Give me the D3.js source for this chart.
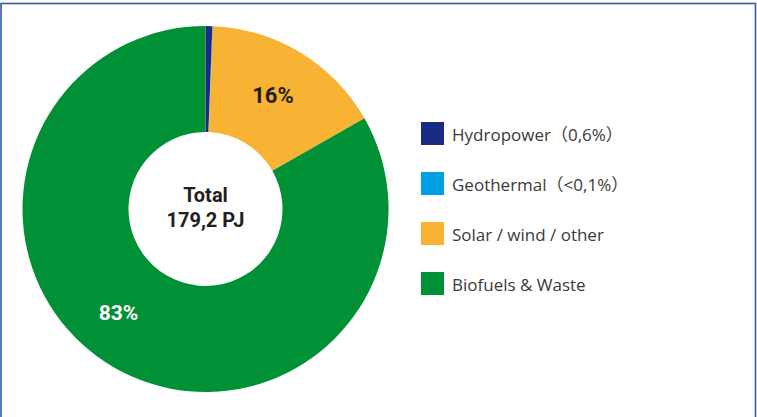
<!DOCTYPE html>
<html><head><meta charset="utf-8">
<script src="https://cdn.jsdelivr.net/npm/d3@7"></script>
<style>body{margin:0;background:#fff}svg{display:block}</style>
</head><body>
<svg id="c" width="757" height="417"></svg>
<script>
const categories = ["Hydropower", "Geothermal", "Solar / wind / other", "Biofuels & Waste"];
const legendLabels = ["Hydropower（0,6%）", "Geothermal（<0,1%）", "Solar / wind / other", "Biofuels & Waste"];
const values = [0.6, 0.05, 16.1, 83.25];
const sliceLabels = ["", "", "16%", "83%"];
const colors = ["#1b2a85", "#009fe3", "#f8b334", "#009036"];
const centerLines = ["Total", "179,2 PJ"];

const svg = d3.select("#c");
svg.append("rect").attr("x", 1).attr("y", 3.5).attr("width", 754.5).attr("height", 420)
  .attr("fill", "none").attr("stroke", "#2f5ca8").attr("stroke-width", 1.6);

const cx = 205.5, cy = 209, R = 183, r = 77;
const g = svg.append("g").attr("transform", `translate(${cx},${cy})`);
const pie = d3.pie().sort(null).value(d => d)(values);
const arc = d3.arc().innerRadius(r).outerRadius(R);
g.selectAll("path").data(pie).enter().append("path")
  .attr("d", arc).attr("fill", (d, i) => colors[i]);

const narrow = "'Liberation Sans Narrow','Arial Narrow',Roboto,sans-serif";
const bold = "Roboto,'Liberation Sans',sans-serif";
const labelStyle = [null, null, {x: 67.5, y: -114, f: bold, s: 22, c: "#231f20"}, {x: -87, y: 104, f: narrow, s: 21, c: "#fff"}];
pie.forEach((d, i) => {
  if (!sliceLabels[i]) return;
  const st = labelStyle[i];
  g.append("text").attr("x", st.x).attr("y", st.y)
    .attr("text-anchor", "middle").attr("dominant-baseline", "central")
    .attr("font-family", st.f).attr("font-weight", "bold").attr("font-size", st.s)
    .attr("fill", st.c).text(sliceLabels[i]);
});
centerLines.forEach((t, i) => {
  g.append("text").attr("x", 0).attr("y", -14 + i * 25)
    .attr("text-anchor", "middle").attr("dominant-baseline", "central")
    .attr("font-family", bold).attr("font-weight", "bold").attr("font-size", 20)
    .attr("fill", "#231f20").text(t);
});

const lg = svg.append("g").attr("transform", "translate(421,122)");
legendLabels.forEach((t, i) => {
  const row = lg.append("g").attr("transform", `translate(0,${i * 50})`);
  row.append("rect").attr("width", 23).attr("height", 23).attr("fill", colors[i]);
  row.append("text").attr("x", 31).attr("y", 12).attr("dominant-baseline", "central")
    .attr("font-family", "'Open Sans','Noto Sans','Noto Sans CJK JP',sans-serif").attr("font-size", 17)
    .attr("fill", "#3a3a3a").text(t);
});
</script>
</body></html>
